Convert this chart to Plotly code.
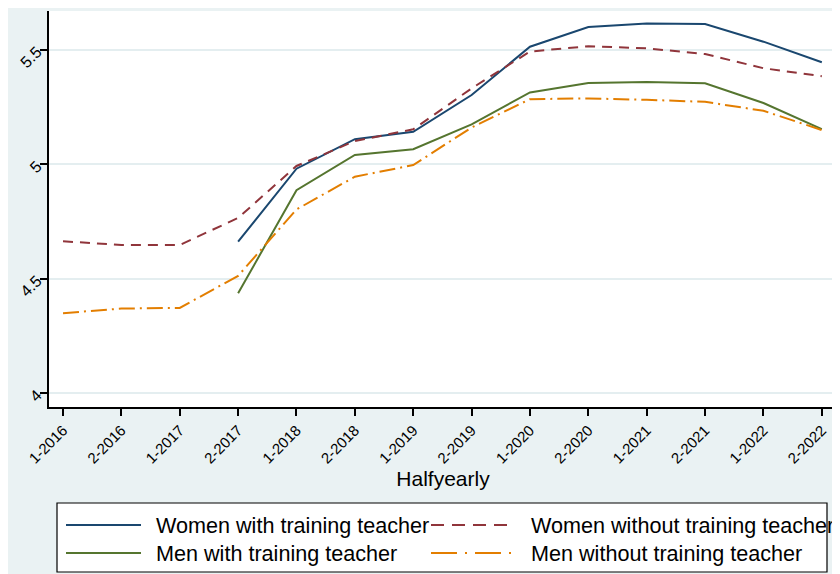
import plotly.graph_objects as go

periods = ["1-2016", "2-2016", "1-2017", "2-2017", "1-2018", "2-2018", "1-2019",
           "2-2019", "1-2020", "2-2020", "1-2021", "2-2021", "1-2022", "2-2022"]

women_with = [None, None, None, 4.662, 4.981, 5.110, 5.142, 5.303, 5.514, 5.600,
              5.615, 5.613, 5.536, 5.446]
women_without = [4.664, 4.648, 4.648, 4.766, 4.993, 5.102, 5.153, 5.332, 5.493, 5.516,
                 5.507, 5.482, 5.420, 5.385]
men_with = [None, None, None, 4.437, 4.887, 5.041, 5.066, 5.175, 5.314, 5.355,
            5.360, 5.354, 5.268, 5.154]
men_without = [4.350, 4.370, 4.373, 4.513, 4.803, 4.946, 4.997, 5.161, 5.285, 5.288,
               5.282, 5.273, 5.234, 5.150]

y_ticks = [4, 4.5, 5, 5.5]
y_ticktext = ["4", "4.5", "5", "5.5"]

# name, values, colour, dash in plot, dash in legend
series = [
    ("Women with training teacher", women_with, "#1a476f", "solid", "solid"),
    ("Women without training teacher", women_without, "#90353b", "10px,7px", "13px,8px"),
    ("Men with training teacher", men_with, "#55752f", "solid", "solid"),
    ("Men without training teacher", men_without, "#e37e00", "16px,5px,2px,5px",
     "26px,8px,2px,8px"),
]

FONT = "Liberation Sans, Arial, sans-serif"
BG = "#eaf2f3"

FIG_W, FIG_H = 832, 566
# pixel geometry of the plot area inside the figure
L, R, T, B = 41, 829, 3, 399
W, H = R - L, B - T


def px(x):
    return (x - L) / W


def py(y):
    return (B - y) / H


fig = go.Figure()
for name, vals, color, dash, _ in series:
    fig.add_trace(go.Scatter(
        x=periods, y=vals, name=name, mode="lines",
        line=dict(color=color, width=2, dash=dash),
        connectgaps=False, showlegend=False,
    ))

fig.update_layout(
    width=FIG_W, height=FIG_H,
    margin=dict(l=L, r=FIG_W - R, t=T, b=FIG_H - B),
    paper_bgcolor=BG,
    plot_bgcolor="white",
    font=dict(family=FONT, color="black", size=15),
    showlegend=False,
    xaxis=dict(
        type="category",
        categoryorder="array",
        categoryarray=periods,
        range=[-0.24, 13.26],
        automargin=False,
        showgrid=False,
        showline=True, linecolor="black", linewidth=1.5,
        ticks="outside", ticklen=7, tickcolor="black", tickwidth=1.5,
        tickangle=-45,
        tickfont=dict(family=FONT, size=15, color="black"),
        title=dict(text="Halfyearly", font=dict(family=FONT, size=21, color="black"),
                   standoff=4),
        zeroline=False,
    ),
    yaxis=dict(
        range=[3.94, 5.67],
        tickvals=y_ticks,
        ticktext=y_ticktext,
        automargin=False,
        showgrid=True, gridcolor="#e4eef0", gridwidth=1.5,
        showline=True, linecolor="black", linewidth=1.5,
        ticks="outside", ticklen=7, tickcolor="black", tickwidth=1.5,
        tickangle=-45,
        tickfont=dict(family=FONT, size=16, color="black"),
        zeroline=False,
    ),
)

# legend box (drawn manually, Stata style)
fig.add_shape(type="rect", xref="paper", yref="paper",
              x0=px(49), x1=px(819), y0=py(564), y1=py(495),
              fillcolor="white", line=dict(color="black", width=1.2))

rows_y = [517, 545]
cols = [(58, 133, 146), (423, 506, 521)]
for i, (name, _, color, _, ldash) in enumerate(series):
    r, c = divmod(i, 2)
    x0, x1, xt = cols[c]
    yy = rows_y[r]
    fig.add_shape(type="line", xref="paper", yref="paper",
                  x0=px(x0), x1=px(x1), y0=py(yy), y1=py(yy),
                  line=dict(color=color, width=2, dash=ldash))
    fig.add_annotation(xref="paper", yref="paper", x=px(xt), y=py(yy),
                       text=name, showarrow=False, xanchor="left", yanchor="middle",
                       font=dict(family=FONT, size=21.6, color="black"))

fig.write_html("out.html")
